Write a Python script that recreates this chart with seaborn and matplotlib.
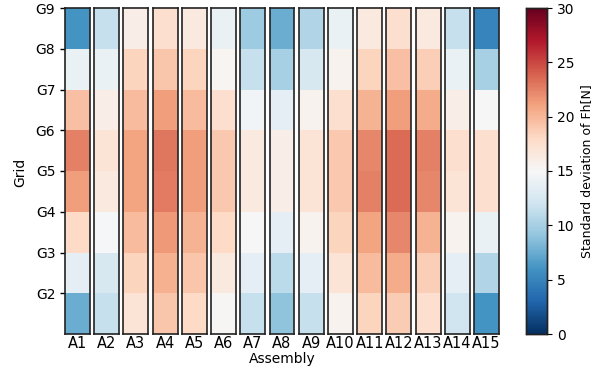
import numpy as np
import pandas as pd
import matplotlib
matplotlib.use("Agg")
import matplotlib.pyplot as plt
import seaborn as sns

# assemblies on the x axis, grid bands from top (G9-G8) down to bottom (below G2)
assemblies = ["A1", "A2", "A3", "A4", "A5", "A6", "A7", "A8", "A9", "A10",
              "A11", "A12", "A13", "A14", "A15"]
grid_ticks = ["G9", "G8", "G7", "G6", "G5", "G4", "G3", "G2"]

# standard deviation of Fh [N], one list per assembly, top band first
std_fh = {
    "A1":  [6.0, 14.0, 19.5, 22.5, 21.3, 18.0, 13.5, 7.5],
    "A2":  [11.5, 14.0, 16.0, 17.0, 16.5, 14.8, 12.5, 11.5],
    "A3":  [16.0, 18.3, 19.8, 21.0, 21.0, 19.8, 18.3, 17.0],
    "A4":  [17.5, 19.2, 21.3, 23.0, 22.8, 21.5, 20.3, 19.2],
    "A5":  [16.5, 18.3, 19.8, 21.3, 21.3, 20.2, 19.2, 18.0],
    "A6":  [14.0, 15.3, 17.5, 19.0, 19.0, 18.0, 16.5, 15.2],
    "A7":  [9.5, 11.5, 14.5, 16.5, 16.5, 15.0, 13.5, 11.5],
    "A8":  [7.5, 10.0, 13.5, 16.0, 16.0, 13.5, 11.0, 9.0],
    "A9":  [10.5, 12.5, 15.5, 17.0, 17.0, 15.5, 13.5, 11.5],
    "A10": [14.0, 15.5, 17.5, 19.0, 19.0, 18.3, 17.0, 15.5],
    "A11": [16.5, 18.3, 20.2, 22.3, 22.6, 21.0, 19.8, 18.3],
    "A12": [17.5, 19.5, 21.3, 23.5, 23.5, 22.3, 20.6, 18.8],
    "A13": [16.5, 18.7, 20.6, 22.6, 22.3, 20.2, 18.7, 17.5],
    "A14": [11.5, 14.0, 16.0, 17.5, 17.0, 15.5, 13.5, 12.0],
    "A15": [5.0, 10.0, 15.0, 17.5, 17.5, 14.0, 10.5, 6.0],
}

W, H = 594, 370
fig = plt.figure(figsize=(W / 100, H / 100), dpi=100)
gs = fig.add_gridspec(1, len(assemblies), left=65 / W, right=499 / W,
                      top=1 - 8 / H, bottom=1 - 334 / H, wspace=0.17)
cax = fig.add_axes([526 / W, 1 - 334 / H, 21 / W, 326 / H])

for i, name in enumerate(assemblies):
    ax = fig.add_subplot(gs[0, i])
    df = pd.DataFrame({name: std_fh[name]})
    last = i == len(assemblies) - 1
    sns.heatmap(df, ax=ax, cmap="RdBu_r", vmin=0, vmax=30,
                cbar=last, cbar_ax=cax if last else None,
                xticklabels=True, yticklabels=False)
    for s in ax.spines.values():
        s.set_visible(True)
        s.set_color("#222222")
        s.set_linewidth(1.2)
    ax.tick_params(axis="x", length=0, labelsize=10.5, labelrotation=0, pad=1.5)
    if i == 0:
        ax.set_yticks(np.arange(len(grid_ticks)))
        ax.set_yticklabels(grid_ticks, rotation=0, fontsize=10)
        ax.tick_params(axis="y", length=3.5, width=1)
    else:
        ax.set_yticks([])
    ax.set_xlabel("")
    ax.set_ylabel("")

cax.set_yticks([0, 5, 10, 15, 20, 25, 30])
cax.tick_params(labelsize=10, length=3.5)
cax.set_ylabel("Standard deviation of Fh[N]", fontsize=9)
for s in cax.spines.values():
    s.set_visible(True)
    s.set_color("#222222")
    s.set_linewidth(1)

fig.text(282 / W, 1 - 359 / H, "Assembly", ha="center", va="center", fontsize=10)
fig.text(20 / W, 1 - 172 / H, "Grid", ha="center", va="center", rotation=90, fontsize=10)

fig.savefig("out.png", dpi=100)
